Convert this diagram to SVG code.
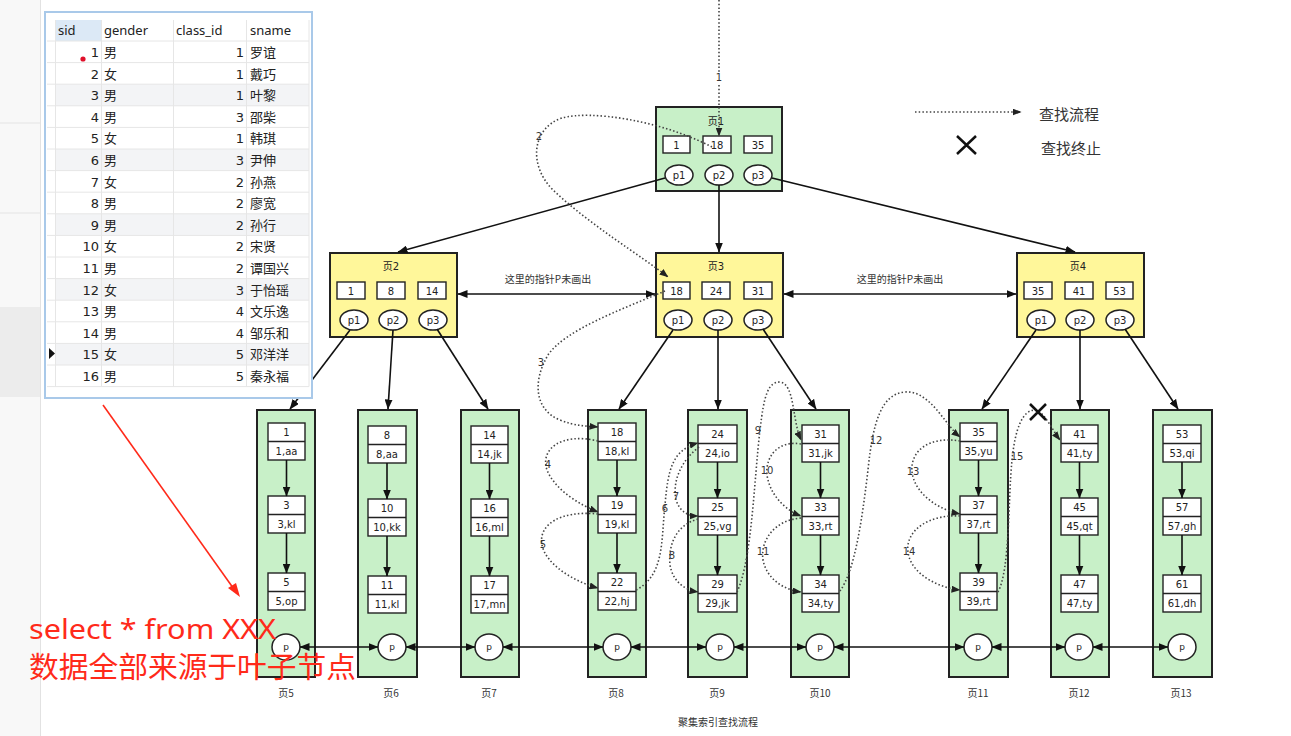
<svg xmlns="http://www.w3.org/2000/svg" width="1291" height="736" viewBox="0 0 1291 736">
<style>
text{font-family:"DejaVu Sans","Noto Sans CJK SC",sans-serif}
.t{font-size:10px;fill:#222;text-anchor:middle}
.cj{font-family:"Noto Sans CJK SC",sans-serif}
.k{fill:#fff;stroke:#222;stroke-width:1.4}
.leaf{fill:#c8f0c8;stroke:#222;stroke-width:2}
.in{fill:#fff79a;stroke:#222;stroke-width:2}
.root{fill:#c8f0c8;stroke:#222;stroke-width:2}
.e{fill:#fff;stroke:#222;stroke-width:1.5}
.ar{stroke:#111;stroke-width:1.6;fill:none;marker-end:url(#ah)}
.db{stroke:#111;stroke-width:1.6;fill:none;marker-end:url(#ah);marker-start:url(#ah)}
.dt{stroke:#444;stroke-width:1.6;stroke-dasharray:1.5 2.2;fill:none;marker-end:url(#dh)}
.lb{font-size:10px;fill:#333;text-anchor:middle}
.tb{font-family:"Noto Sans","Noto Sans CJK SC",sans-serif;font-size:13px;fill:#222}
.gl{stroke:#e6e6e6;stroke-width:1}
</style>
<defs>
<marker id="ah" markerWidth="10" markerHeight="8" refX="9.5" refY="4" orient="auto-start-reverse" markerUnits="userSpaceOnUse"><path d="M0,0 L10,4 L0,8 z" fill="#111"/></marker>
<marker id="dh" markerWidth="9" markerHeight="7" refX="8.5" refY="3.5" orient="auto" markerUnits="userSpaceOnUse"><path d="M0,0 L9,3.5 L0,7 z" fill="#222"/></marker>
</defs>
<rect width="1291" height="736" fill="#fff"/>
<!-- sidebar -->
<g id="sidebar">
<rect x="0" y="0" width="40" height="736" fill="#f8f8f8"/>
<rect x="0" y="307" width="40" height="90" fill="#ececec"/>
<line x1="0" y1="123" x2="40" y2="123" stroke="#e4e4e4"/>
<line x1="0" y1="213" x2="40" y2="213" stroke="#e4e4e4"/>
<line x1="40.5" y1="0" x2="40.5" y2="736" stroke="#e2e2e2"/>
</g>

<!-- nodes -->
<g id="page1">
<rect class="root" x="656" y="107" width="126" height="84"/>
<text class="t" x="716" y="125">页1</text>
<rect class="k" x="663" y="136" width="27" height="17"/><text class="t" x="676.5" y="148.5">1</text>
<rect class="k" x="703" y="136" width="28" height="17"/><text class="t" x="717" y="148.5">18</text>
<rect class="k" x="744" y="136" width="28" height="17"/><text class="t" x="758" y="148.5">35</text>
<ellipse class="e" cx="679" cy="175" rx="14" ry="10"/><text class="t" x="679" y="178.5">p1</text>
<ellipse class="e" cx="719" cy="175" rx="14" ry="10"/><text class="t" x="719" y="178.5">p2</text>
<ellipse class="e" cx="758" cy="175" rx="14" ry="10"/><text class="t" x="758" y="178.5">p3</text>
</g>
<g id="page2">
<rect class="in" x="330" y="253" width="127" height="84"/>
<text class="t" x="391" y="270">页2</text>
<rect class="k" x="337" y="282" width="28" height="17"/><text class="t" x="351" y="294.5">1</text>
<rect class="k" x="377" y="282" width="28" height="17"/><text class="t" x="391" y="294.5">8</text>
<rect class="k" x="418" y="282" width="28" height="17"/><text class="t" x="432" y="294.5">14</text>
<ellipse class="e" cx="354" cy="320" rx="14" ry="10"/><text class="t" x="354" y="323.5">p1</text>
<ellipse class="e" cx="393" cy="320" rx="14" ry="10"/><text class="t" x="393" y="323.5">p2</text>
<ellipse class="e" cx="433" cy="320" rx="14" ry="10"/><text class="t" x="433" y="323.5">p3</text>
</g>
<g id="page3">
<rect class="in" x="656" y="253" width="127" height="84"/>
<text class="t" x="716" y="270">页3</text>
<rect class="k" x="663" y="282" width="27" height="17"/><text class="t" x="676.5" y="294.5">18</text>
<rect class="k" x="702" y="282" width="28" height="17"/><text class="t" x="716" y="294.5">24</text>
<rect class="k" x="744" y="282" width="28" height="17"/><text class="t" x="758" y="294.5">31</text>
<ellipse class="e" cx="678" cy="320" rx="14" ry="10"/><text class="t" x="678" y="323.5">p1</text>
<ellipse class="e" cx="718" cy="320" rx="14" ry="10"/><text class="t" x="718" y="323.5">p2</text>
<ellipse class="e" cx="758" cy="320" rx="14" ry="10"/><text class="t" x="758" y="323.5">p3</text>
</g>
<g id="page4">
<rect class="in" x="1017" y="253" width="127" height="84"/>
<text class="t" x="1078" y="270">页4</text>
<rect class="k" x="1024" y="282" width="28" height="17"/><text class="t" x="1038" y="294.5">35</text>
<rect class="k" x="1065" y="282" width="28" height="17"/><text class="t" x="1079" y="294.5">41</text>
<rect class="k" x="1106" y="282" width="27" height="17"/><text class="t" x="1119.5" y="294.5">53</text>
<ellipse class="e" cx="1041" cy="320" rx="14" ry="10"/><text class="t" x="1041" y="323.5">p1</text>
<ellipse class="e" cx="1080" cy="320" rx="14" ry="10"/><text class="t" x="1080" y="323.5">p2</text>
<ellipse class="e" cx="1120" cy="320" rx="14" ry="10"/><text class="t" x="1120" y="323.5">p3</text>
</g>
<text class="lb cj" x="548" y="283">这里的指针P未画出</text>
<text class="lb cj" x="900" y="283">这里的指针P未画出</text>

<g id="page5">
<rect class="leaf" x="257" y="410" width="58" height="267"/>
<rect class="k" x="268" y="423" width="37" height="37"/><line class="k" x1="268" y1="441.5" x2="305" y2="441.5"/>
<text class="t" x="286.5" y="436">1</text><text class="t" x="286.5" y="455">1,aa</text>
<rect class="k" x="268" y="496" width="37" height="37"/><line class="k" x1="268" y1="514.5" x2="305" y2="514.5"/>
<text class="t" x="286.5" y="509">3</text><text class="t" x="286.5" y="528">3,kl</text>
<rect class="k" x="268" y="573" width="37" height="37"/><line class="k" x1="268" y1="591.5" x2="305" y2="591.5"/>
<text class="t" x="286.5" y="586">5</text><text class="t" x="286.5" y="605">5,op</text>
<ellipse class="e" cx="286" cy="647" rx="14" ry="13"/><text class="t" x="286" y="650" style="font-size:9px">p</text>
<text class="lb cj" x="286" y="697">页5</text>
</g>
<g id="page6">
<rect class="leaf" x="358" y="410" width="59" height="267"/>
<rect class="k" x="368" y="426" width="38" height="37"/><line class="k" x1="368" y1="444.5" x2="406" y2="444.5"/>
<text class="t" x="387" y="439">8</text><text class="t" x="387" y="458">8,aa</text>
<rect class="k" x="368" y="499" width="38" height="37"/><line class="k" x1="368" y1="517.5" x2="406" y2="517.5"/>
<text class="t" x="387" y="512">10</text><text class="t" x="387" y="531">10,kk</text>
<rect class="k" x="368" y="576" width="38" height="37"/><line class="k" x1="368" y1="594.5" x2="406" y2="594.5"/>
<text class="t" x="387" y="589">11</text><text class="t" x="387" y="608">11,kl</text>
<ellipse class="e" cx="392" cy="647" rx="14" ry="13"/><text class="t" x="392" y="650" style="font-size:9px">p</text>
<text class="lb cj" x="391" y="697">页6</text>
</g>
<g id="page7">
<rect class="leaf" x="461" y="410" width="58" height="267"/>
<rect class="k" x="471" y="426" width="37" height="37"/><line class="k" x1="471" y1="444.5" x2="508" y2="444.5"/>
<text class="t" x="489.5" y="439">14</text><text class="t" x="489.5" y="458">14,jk</text>
<rect class="k" x="471" y="499" width="37" height="37"/><line class="k" x1="471" y1="517.5" x2="508" y2="517.5"/>
<text class="t" x="489.5" y="512">16</text><text class="t" x="489.5" y="531">16,ml</text>
<rect class="k" x="471" y="576" width="37" height="37"/><line class="k" x1="471" y1="594.5" x2="508" y2="594.5"/>
<text class="t" x="489.5" y="589">17</text><text class="t" x="489.5" y="608">17,mn</text>
<ellipse class="e" cx="489" cy="647" rx="14" ry="13"/><text class="t" x="489" y="650" style="font-size:9px">p</text>
<text class="lb cj" x="489" y="697">页7</text>
</g>
<g id="page8">
<rect class="leaf" x="588" y="410" width="58" height="267"/>
<rect class="k" x="598" y="423" width="38" height="37"/><line class="k" x1="598" y1="441.5" x2="636" y2="441.5"/>
<text class="t" x="617" y="436">18</text><text class="t" x="617" y="455">18,kl</text>
<rect class="k" x="598" y="496" width="38" height="37"/><line class="k" x1="598" y1="514.5" x2="636" y2="514.5"/>
<text class="t" x="617" y="509">19</text><text class="t" x="617" y="528">19,kl</text>
<rect class="k" x="598" y="573" width="38" height="37"/><line class="k" x1="598" y1="591.5" x2="636" y2="591.5"/>
<text class="t" x="617" y="586">22</text><text class="t" x="617" y="605">22,hj</text>
<ellipse class="e" cx="617" cy="647" rx="14" ry="13"/><text class="t" x="617" y="650" style="font-size:9px">p</text>
<text class="lb cj" x="616" y="697">页8</text>
</g>
<g id="page9">
<rect class="leaf" x="688" y="410" width="59" height="267"/>
<rect class="k" x="698" y="425" width="39" height="37"/><line class="k" x1="698" y1="443.5" x2="737" y2="443.5"/>
<text class="t" x="717.5" y="438">24</text><text class="t" x="717.5" y="457">24,io</text>
<rect class="k" x="698" y="498" width="39" height="37"/><line class="k" x1="698" y1="516.5" x2="737" y2="516.5"/>
<text class="t" x="717.5" y="511">25</text><text class="t" x="717.5" y="530">25,vg</text>
<rect class="k" x="698" y="575" width="39" height="37"/><line class="k" x1="698" y1="593.5" x2="737" y2="593.5"/>
<text class="t" x="717.5" y="588">29</text><text class="t" x="717.5" y="607">29,jk</text>
<ellipse class="e" cx="720" cy="647" rx="14" ry="13"/><text class="t" x="720" y="650" style="font-size:9px">p</text>
<text class="lb cj" x="717" y="697">页9</text>
</g>
<g id="page10">
<rect class="leaf" x="791" y="410" width="58" height="267"/>
<rect class="k" x="802" y="425" width="37" height="37"/><line class="k" x1="802" y1="443.5" x2="839" y2="443.5"/>
<text class="t" x="820.5" y="438">31</text><text class="t" x="820.5" y="457">31,jk</text>
<rect class="k" x="802" y="498" width="37" height="37"/><line class="k" x1="802" y1="516.5" x2="839" y2="516.5"/>
<text class="t" x="820.5" y="511">33</text><text class="t" x="820.5" y="530">33,rt</text>
<rect class="k" x="802" y="575" width="37" height="37"/><line class="k" x1="802" y1="593.5" x2="839" y2="593.5"/>
<text class="t" x="820.5" y="588">34</text><text class="t" x="820.5" y="607">34,ty</text>
<ellipse class="e" cx="820" cy="647" rx="14" ry="13"/><text class="t" x="820" y="650" style="font-size:9px">p</text>
<text class="lb cj" x="820" y="697">页10</text>
</g>
<g id="page11">
<rect class="leaf" x="949" y="410" width="59" height="267"/>
<rect class="k" x="960" y="423" width="37" height="37"/><line class="k" x1="960" y1="441.5" x2="997" y2="441.5"/>
<text class="t" x="978.5" y="436">35</text><text class="t" x="978.5" y="455">35,yu</text>
<rect class="k" x="960" y="496" width="37" height="37"/><line class="k" x1="960" y1="514.5" x2="997" y2="514.5"/>
<text class="t" x="978.5" y="509">37</text><text class="t" x="978.5" y="528">37,rt</text>
<rect class="k" x="960" y="573" width="37" height="37"/><line class="k" x1="960" y1="591.5" x2="997" y2="591.5"/>
<text class="t" x="978.5" y="586">39</text><text class="t" x="978.5" y="605">39,rt</text>
<ellipse class="e" cx="978" cy="647" rx="14" ry="13"/><text class="t" x="978" y="650" style="font-size:9px">p</text>
<text class="lb cj" x="978" y="697">页11</text>
</g>
<g id="page12">
<rect class="leaf" x="1051" y="410" width="58" height="267"/>
<rect class="k" x="1061" y="425" width="37" height="37"/><line class="k" x1="1061" y1="443.5" x2="1098" y2="443.5"/>
<text class="t" x="1079.5" y="438">41</text><text class="t" x="1079.5" y="457">41,ty</text>
<rect class="k" x="1061" y="498" width="37" height="37"/><line class="k" x1="1061" y1="516.5" x2="1098" y2="516.5"/>
<text class="t" x="1079.5" y="511">45</text><text class="t" x="1079.5" y="530">45,qt</text>
<rect class="k" x="1061" y="575" width="37" height="37"/><line class="k" x1="1061" y1="593.5" x2="1098" y2="593.5"/>
<text class="t" x="1079.5" y="588">47</text><text class="t" x="1079.5" y="607">47,ty</text>
<ellipse class="e" cx="1079" cy="647" rx="14" ry="13"/><text class="t" x="1079" y="650" style="font-size:9px">p</text>
<text class="lb cj" x="1079" y="697">页12</text>
</g>
<g id="page13">
<rect class="leaf" x="1153" y="410" width="59" height="267"/>
<rect class="k" x="1163" y="425" width="38" height="37"/><line class="k" x1="1163" y1="443.5" x2="1201" y2="443.5"/>
<text class="t" x="1182" y="438">53</text><text class="t" x="1182" y="457">53,qi</text>
<rect class="k" x="1163" y="498" width="38" height="37"/><line class="k" x1="1163" y1="516.5" x2="1201" y2="516.5"/>
<text class="t" x="1182" y="511">57</text><text class="t" x="1182" y="530">57,gh</text>
<rect class="k" x="1163" y="575" width="38" height="37"/><line class="k" x1="1163" y1="593.5" x2="1201" y2="593.5"/>
<text class="t" x="1182" y="588">61</text><text class="t" x="1182" y="607">61,dh</text>
<ellipse class="e" cx="1182" cy="647" rx="14" ry="13"/><text class="t" x="1182" y="650" style="font-size:9px">p</text>
<text class="lb cj" x="1181" y="697">页13</text>
</g>
<text class="lb cj" x="718" y="726">聚集索引查找流程</text>

<!-- connectors -->
<g id="connectors">
<line class="ar" x1="665" y1="178" x2="398" y2="252"/>
<line class="ar" x1="719" y1="185" x2="719" y2="252"/>
<line class="ar" x1="772" y1="178" x2="1075" y2="252"/>
<line class="ar" x1="350" y1="330" x2="290" y2="409"/>
<line class="ar" x1="393" y1="330" x2="388" y2="409"/>
<line class="ar" x1="437" y1="329" x2="488" y2="409"/>
<line class="ar" x1="673" y1="330" x2="619" y2="409"/>
<line class="ar" x1="718" y1="330" x2="718" y2="409"/>
<line class="ar" x1="763" y1="329" x2="816" y2="409"/>
<line class="ar" x1="1036" y1="330" x2="982" y2="409"/>
<line class="ar" x1="1080" y1="330" x2="1080" y2="409"/>
<line class="ar" x1="1125" y1="329" x2="1178" y2="409"/>
<line class="db" x1="458" y1="294" x2="655" y2="294"/>
<line class="db" x1="784" y1="294" x2="1016" y2="294"/>
<line class="db" x1="300" y1="647" x2="378" y2="647"/>
<line class="db" x1="406" y1="647" x2="475" y2="647"/>
<line class="db" x1="503" y1="647" x2="603" y2="647"/>
<line class="db" x1="631" y1="647" x2="706" y2="647"/>
<line class="db" x1="734" y1="647" x2="806" y2="647"/>
<line class="db" x1="834" y1="647" x2="964" y2="647"/>
<line class="db" x1="992" y1="647" x2="1065" y2="647"/>
<line class="db" x1="1093" y1="647" x2="1168" y2="647"/>
<line class="ar" x1="286.5" y1="460" x2="286.5" y2="496"/>
<line class="ar" x1="286.5" y1="533" x2="286.5" y2="573"/>
<line class="ar" x1="387" y1="463" x2="387" y2="499"/>
<line class="ar" x1="387" y1="536" x2="387" y2="576"/>
<line class="ar" x1="489.5" y1="463" x2="489.5" y2="499"/>
<line class="ar" x1="489.5" y1="536" x2="489.5" y2="576"/>
<line class="ar" x1="617" y1="460" x2="617" y2="496"/>
<line class="ar" x1="617" y1="533" x2="617" y2="573"/>
<line class="ar" x1="717.5" y1="462" x2="717.5" y2="498"/>
<line class="ar" x1="717.5" y1="535" x2="717.5" y2="575"/>
<line class="ar" x1="820.5" y1="462" x2="820.5" y2="498"/>
<line class="ar" x1="820.5" y1="535" x2="820.5" y2="575"/>
<line class="ar" x1="978.5" y1="460" x2="978.5" y2="496"/>
<line class="ar" x1="978.5" y1="533" x2="978.5" y2="573"/>
<line class="ar" x1="1079.5" y1="462" x2="1079.5" y2="498"/>
<line class="ar" x1="1079.5" y1="535" x2="1079.5" y2="575"/>
<line class="ar" x1="1182" y1="462" x2="1182" y2="498"/>
<line class="ar" x1="1182" y1="535" x2="1182" y2="575"/>
</g>

<!-- search path (dotted) -->
<g id="search-path">
<line class="dt" x1="719" y1="0" x2="719" y2="136"/>
<path class="dt" d="M712,147 C660,120 590,110 562,118 C532,128 528,165 553,190 C590,225 640,255 668,277"/>
<path class="dt" d="M665,291 C620,310 565,330 548,355 C532,382 535,410 560,420 C575,426 585,426 598,427"/>
<path class="dt" d="M598,441 C560,432 540,450 547,470 C555,490 580,505 598,512"/>
<path class="dt" d="M598,514 C560,510 538,525 542,545 C546,565 575,582 598,588"/>
<path class="dt" d="M636,590 C665,575 661,540 665,505 C668,470 672,450 698,443"/>
<path class="dt" d="M699,447 C682,460 672,480 676,500 C680,512 688,516 698,516"/>
<path class="dt" d="M698,519 C676,525 668,545 670,565 C673,582 685,590 698,592"/>
<path class="dt" d="M737,592 C752,560 754,480 760,430 C764,395 768,382 780,382 C795,384 792,420 801,440"/>
<path class="dt" d="M801,444 C780,440 765,455 767,475 C770,495 785,510 801,516"/>
<path class="dt" d="M801,518 C775,520 760,540 763,560 C767,580 785,590 801,592"/>
<path class="dt" d="M840,591 C855,570 862,520 868,470 C873,420 882,394 905,392 C930,390 945,425 960,437"/>
<path class="dt" d="M960,441 C930,436 910,450 912,472 C915,495 940,510 960,514"/>
<path class="dt" d="M960,516 C930,514 905,530 908,552 C911,575 940,588 960,590"/>
<path class="dt" d="M998,592 C1010,570 1008,500 1012,460 C1015,430 1022,410 1035,410 C1045,412 1052,430 1060,440"/>
<rect x="713" y="72" width="12" height="11" fill="#fff"/>
<text class="lb" x="719" y="81">1</text>
<text class="lb" x="539" y="140">2</text>
<text class="lb" x="541" y="366">3</text>
<text class="lb" x="548" y="468">4</text>
<text class="lb" x="543" y="548">5</text>
<text class="lb" x="665" y="512">6</text>
<text class="lb" x="676" y="500">7</text>
<text class="lb" x="672" y="559">8</text>
<text class="lb" x="758" y="434">9</text>
<text class="lb" x="767" y="474">10</text>
<text class="lb" x="763" y="555">11</text>
<text class="lb" x="876" y="444">12</text>
<text class="lb" x="913" y="475">13</text>
<text class="lb" x="909" y="555">14</text>
<text class="lb" x="1017" y="460">15</text>
<path d="M1030,404 L1046,420 M1046,404 L1030,420" stroke="#111" stroke-width="2.5"/>
</g>

<!-- legend -->
<g id="legend">
<line class="dt" x1="915" y1="112" x2="1021" y2="112"/>
<text x="1039" y="120" class="cj" style="font-size:15px;fill:#333">查找流程</text>
<path d="M957,136 L976,154 M976,136 L957,154" stroke="#111" stroke-width="2.5"/>
<text x="1041" y="154" class="cj" style="font-size:15px;fill:#333">查找终止</text>
</g>

<!-- table window -->
<g id="table">
<rect x="45" y="12" width="267" height="386" fill="#fff" stroke="#a9c9e9" stroke-width="2"/>
<rect x="56" y="20" width="45" height="21" fill="#dce9f6"/>
<g fill="#f3f4f6">
<rect x="56" y="84.2" width="253" height="21.6"/>
<rect x="56" y="149" width="253" height="21.6"/>
<rect x="56" y="213.8" width="253" height="21.6"/>
<rect x="56" y="278.6" width="253" height="21.6"/>
<rect x="56" y="343.4" width="253" height="21.6"/>
</g>
<g class="gl">
<line x1="47" y1="41" x2="309" y2="41"/>
<line x1="47" y1="62.6" x2="309" y2="62.6"/>
<line x1="47" y1="84.2" x2="309" y2="84.2"/>
<line x1="47" y1="105.8" x2="309" y2="105.8"/>
<line x1="47" y1="127.4" x2="309" y2="127.4"/>
<line x1="47" y1="149" x2="309" y2="149"/>
<line x1="47" y1="170.6" x2="309" y2="170.6"/>
<line x1="47" y1="192.2" x2="309" y2="192.2"/>
<line x1="47" y1="213.8" x2="309" y2="213.8"/>
<line x1="47" y1="235.4" x2="309" y2="235.4"/>
<line x1="47" y1="257" x2="309" y2="257"/>
<line x1="47" y1="278.6" x2="309" y2="278.6"/>
<line x1="47" y1="300.2" x2="309" y2="300.2"/>
<line x1="47" y1="321.8" x2="309" y2="321.8"/>
<line x1="47" y1="343.4" x2="309" y2="343.4"/>
<line x1="47" y1="365" x2="309" y2="365"/>
<line x1="47" y1="386.6" x2="309" y2="386.6"/>
<line x1="55.5" y1="20" x2="55.5" y2="386.6"/>
<line x1="101.5" y1="20" x2="101.5" y2="386.6"/>
<line x1="173.5" y1="20" x2="173.5" y2="386.6"/>
<line x1="246.5" y1="20" x2="246.5" y2="386.6"/>
<line x1="309" y1="20" x2="309" y2="386.6"/>
</g>
<text class="tb" x="58" y="35">sid</text>
<text class="tb" x="104" y="35">gender</text>
<text class="tb" x="176" y="35">class_id</text>
<text class="tb" x="250" y="35">sname</text>
<circle cx="83" cy="59" r="2.6" fill="#e0102a"/>
<path d="M49,348 L55,353.5 L49,359 z" fill="#111"/>
<g class="tb" text-anchor="end">
<text x="99" y="57">1</text><text x="99" y="78.6">2</text><text x="99" y="100.2">3</text><text x="99" y="121.8">4</text>
<text x="99" y="143.4">5</text><text x="99" y="165">6</text><text x="99" y="186.6">7</text><text x="99" y="208.2">8</text>
<text x="99" y="229.8">9</text><text x="99" y="251.4">10</text><text x="99" y="273">11</text><text x="99" y="294.6">12</text>
<text x="99" y="316.2">13</text><text x="99" y="337.8">14</text><text x="99" y="359.4">15</text><text x="99" y="381">16</text>
<text x="244" y="57">1</text><text x="244" y="78.6">1</text><text x="244" y="100.2">1</text><text x="244" y="121.8">3</text>
<text x="244" y="143.4">1</text><text x="244" y="165">3</text><text x="244" y="186.6">2</text><text x="244" y="208.2">2</text>
<text x="244" y="229.8">2</text><text x="244" y="251.4">2</text><text x="244" y="273">2</text><text x="244" y="294.6">3</text>
<text x="244" y="316.2">4</text><text x="244" y="337.8">4</text><text x="244" y="359.4">5</text><text x="244" y="381">5</text>
</g>
<g class="tb">
<text x="104" y="57">男</text><text x="104" y="78.6">女</text><text x="104" y="100.2">男</text><text x="104" y="121.8">男</text>
<text x="104" y="143.4">女</text><text x="104" y="165">男</text><text x="104" y="186.6">女</text><text x="104" y="208.2">男</text>
<text x="104" y="229.8">男</text><text x="104" y="251.4">女</text><text x="104" y="273">男</text><text x="104" y="294.6">女</text>
<text x="104" y="316.2">男</text><text x="104" y="337.8">男</text><text x="104" y="359.4">女</text><text x="104" y="381">男</text>
<text x="250" y="57">罗谊</text><text x="250" y="78.6">戴巧</text><text x="250" y="100.2">叶黎</text><text x="250" y="121.8">邵柴</text>
<text x="250" y="143.4">韩琪</text><text x="250" y="165">尹伸</text><text x="250" y="186.6">孙燕</text><text x="250" y="208.2">廖宽</text>
<text x="250" y="229.8">孙行</text><text x="250" y="251.4">宋贤</text><text x="250" y="273">谭国兴</text><text x="250" y="294.6">于怡瑶</text>
<text x="250" y="316.2">文乐逸</text><text x="250" y="337.8">邹乐和</text><text x="250" y="359.4">邓洋洋</text><text x="250" y="381">秦永福</text>
</g>
</g>

<!-- red annotation -->
<g id="annotation">
<line x1="103" y1="405" x2="236" y2="592" stroke="#ff2a1a" stroke-width="1.6"/>
<path d="M240,597 L228,588 L236,583 z" fill="#ff2a1a"/>
<text x="29" y="639" style="font-family:'Noto Sans','Noto Sans CJK SC',sans-serif;font-size:28px;fill:#ff2a1a" textLength="247" lengthAdjust="spacingAndGlyphs">select * from XXX</text>
<text x="29" y="678" style="font-family:'Noto Sans CJK SC',sans-serif;font-size:29px;fill:#ff2a1a" textLength="327" lengthAdjust="spacingAndGlyphs">数据全部来源于叶子节点</text>
</g>
</svg>
